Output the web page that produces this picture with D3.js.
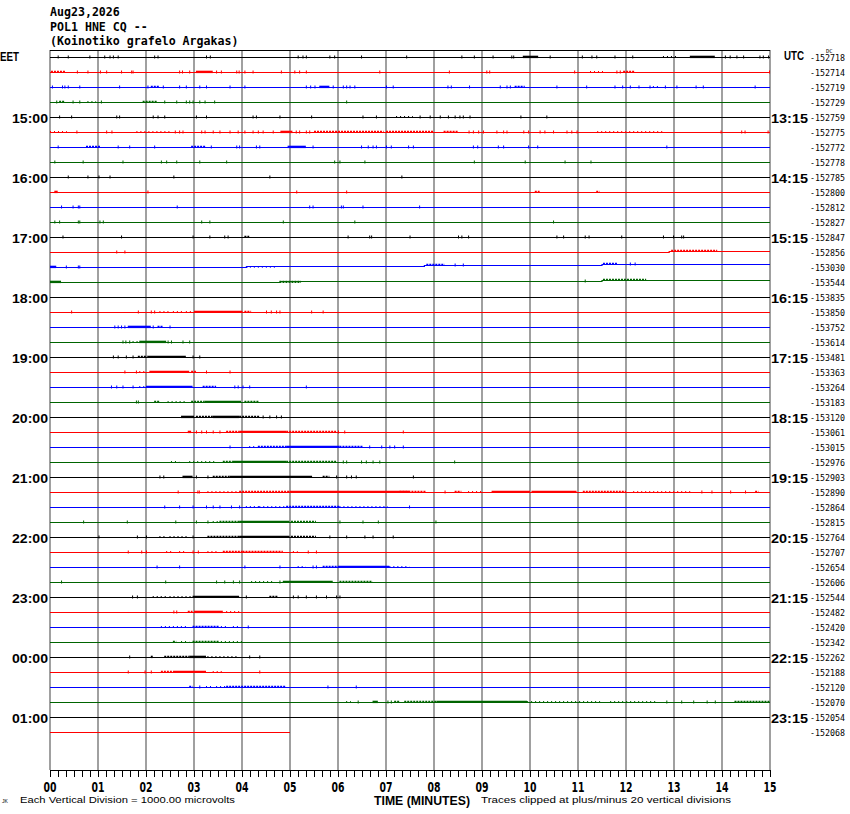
<!DOCTYPE html>
<html><head><meta charset="utf-8">
<script src="https://cdn.jsdelivr.net/npm/d3@7"></script>
<style>
html,body{margin:0;padding:0;background:#fff;}
svg{display:block;}
</style></head>
<body>
<svg id="chart" width="850" height="814"></svg>
<script>
// ---------------- DATA ----------------
const titleLines = ["Aug23,2026", "POL1 HNE CQ --", "(Koinotiko grafelo Argakas)"];
const traceColors = ["#000000", "#ff0000", "#0000ff", "#006400"];
const leftHourLabels = ["15:00","16:00","17:00","18:00","19:00","20:00","21:00","22:00","23:00","00:00","01:00"];
const rightHourLabels = ["13:15","14:15","15:15","16:15","17:15","18:15","19:15","20:15","21:15","22:15","23:15"];
const xTickLabels = ["00","01","02","03","04","05","06","07","08","09","10","11","12","13","14","15"];
const dcLabels = [-152718,-152714,-152719,-152729,-152759,-152775,-152772,-152778,-152785,-152800,-152812,-152827,
  -152847,-152856,-153030,-153544,-153835,-153850,-153752,-153614,-153481,-153363,-153264,-153183,-153120,-153061,
  -153015,-152976,-152903,-152890,-152864,-152815,-152764,-152707,-152654,-152606,-152544,-152482,-152420,-152342,
  -152262,-152188,-152120,-152070,-152054,-152068];
// minutes of recorded data per row (last row is partial)
const rowEndMinutes = dcLabels.map((d,i)=> i===45 ? 5 : 15);
// DC level steps [row, minute, offset in divisions]
const levelSteps = [[13,12.9,1],[14,4.1,1],[14,7.8,2],[14,11.5,3],[15,4.8,1],[15,11.5,2]];
// isolated spikes per row (minutes)
const spikes = [
 [0.16,0.37,0.82,1.13,1.24,1.31,1.41,2.17,2.24,3.25,3.33,5.16,5.26,5.33,5.82,5.92,6.48,7.42,8.57,8.83,9.22,9.61,9.65,10.41,11.08,11.28,11.38,11.76,12.13,14.06,14.16,14.30,14.44,14.78,14.85,14.96],
 [0.56,0.78,1.04,1.17,1.48,1.69,1.72,2.69,2.75,2.90,3.46,3.56,3.88,3.93,4.05,4.22,4.81,5.09,5.19,5.33,6.86,8.31,9.09,9.15,10.92,11.80,11.87,14.98],
 [0.04,0.25,0.30,0.37,0.61,1.44,2.03,2.35,2.69,2.83,3.11,3.25,3.74,4.05,5.33,5.42,5.51,5.89,6.10,6.17,6.24,6.34,7.0,7.14,8.28,8.35,8.73,9.37,9.51,9.58,10.55,11.17,11.76,11.92,12.08,12.26,12.49,12.81,13.05,13.45,13.60,14.68],
 [0.13,0.47,0.61,1.06,2.38,2.63,2.83,2.90,2.97,3.11,3.22,3.42,6.17],
 [0.19,0.44,1.38,1.44,2.14,2.24,2.38,3.04,3.25,4.22,4.29,4.78,5.44,6.51,6.79,7.70,7.91,8.12,8.29,8.43,8.53,8.60,8.74,9.80,10.34],
 [0.55,1.17,1.28,2.60,2.69,2.76,3.15,3.22,3.39,3.53,3.74,3.91,4.05,4.22,4.33,4.43,4.64,5.12,5.19,5.33,5.40,8.72,8.81,8.92,9.02,9.30,9.44,9.51,9.86,9.96,10.20,10.30,10.48,10.76,10.86,10.97,13.97,14.40,14.47,14.95],
 [0.16,1.41,1.65,2.17,3.35,3.88,3.94,4.29,4.36,5.47,6.48,6.62,6.72,6.79,7.0,7.10,7.46,7.56,8.81,8.90,9.33,9.44,9.96,10.15,12.84],
 [0.09,0.68,1.51,2.31,2.42,2.63,3.11,3.67,5.92,6.03,6.55,8.83,9.89,10.72,11.26],
 [0.37,0.78,1.01,1.24,2.57,4.57,7.32],
 [2.03,5.13,6.17],
 [0.23,0.47,0.58,0.61,2.64,5.40,5.47,6.06,6.10,6.51,7.69],
 [0.09,0.19,0.58,0.61,1.03,1.10,3.15,3.32,4.85,6.34,10.48],
 [0.26,1.48,2.97,3.32,3.63,3.70,6.20,6.65,6.69,7.49,8.50,8.57,8.71,10.55,10.69,11.14,11.22,11.90,12.77,12.98,13.15,13.19],
 [1.38,1.55],
 [0.33,0.58,0.61,8.43,8.60,12.08,12.18],
 [11.14],
 [],
 [0.44,1.83,2.10,2.17,4.50,4.60,4.71,4.78,5.44,5.68],
 [1.34,1.41,1.48,1.55,2.14,2.49],
 [1.51,1.57,1.65,2.45,2.52,2.76,2.90],
 [1.31,1.41,1.58,1.72,2.97,3.11],
 [1.55,1.79,3.25,3.74],
 [1.27,1.38,1.51,1.72,3.84,3.91,4.01,4.15,5.33],
 [1.79,1.83],
 [4.43,4.57,4.71,4.81],
 [3.04,3.15,3.25,3.39,3.53,6.0,6.13,7.35],
 [3.74,6.65,6.90,7.07,7.17,7.35],
 [6.10,6.17,6.48,6.58,6.72,6.86,8.42],
 [2.28,2.36,3.04,3.28,5.96,6.17,6.27,6.37,7.56],
 [2.66,3.07,3.10,8.22,13.57,13.78,14.17,14.48],
 [2.38,2.69,2.97,3.25,3.39,3.53,3.77,3.94,7.48],
 [0.69,1.60,2.61,3.04,3.28,6.03,6.51,6.83,8.03],
 [1.01,1.81,2.0,2.97,5.82,6.17,6.55,6.72,7.14],
 [1.62,1.90,2.0,2.97,3.08,5.37,5.54],
 [2.22,2.69,4.05,4.78,5.47,5.54],
 [0.23,2.40,3.46,3.63,3.81,3.94,4.78],
 [1.71,1.81,4.08,5.06,5.16,5.33,5.54,5.75,5.96,6.03],
 [2.57,2.63],
 [4.12],
 [],
 [1.65,4.15,4.36],
 [1.62,1.97,2.10,4.36],
 [3.11,5.78,6.37],
 [6.41,7.03,7.10,12.84,13.15,13.40,13.68,13.85],
 [],
 []
];
// bursts of activity per row: [startMin, endMin, density 1..3]
const bursts = [
 [[9.85,10.17,3],[12.77,13.05,1],[13.33,13.85,3]],
 [[0.02,0.33,2],[3.04,3.39,3],[11.25,11.56,1],[11.94,12.18,2]],
 [[2.10,2.28,2],[5.61,5.82,3],[9.68,9.89,2],[12.56,12.70,1]],
 [[0.19,0.30,2],[0.78,0.96,1],[1.93,2.24,2]],
 [[7.21,7.56,1]],
 [[0.0,0.35,1],[1.80,2.55,1],[4.80,5.05,3],[5.50,6.95,2],[7.0,8.0,2],[8.20,8.50,2],[11.40,12.80,1]],
 [[0.75,1.06,2],[2.94,3.25,2],[4.95,5.33,3]],
 [],
 [],
 [[0.09,0.16,3],[10.10,10.20,2],[11.38,11.45,2]],
 [],
 [],
 [[4.05,4.15,2]],
 [[12.94,13.90,2]],
 [[0.0,0.13,3],[4.08,4.70,1],[7.84,8.22,2],[11.52,11.83,2]],
 [[0.0,0.23,3],[4.78,5.23,2],[11.52,12.42,2]],
 [],
 [[2.28,2.49,1],[2.56,2.76,1],[2.83,2.97,1],[3.0,4.01,3],[4.05,4.19,2]],
 [[1.62,2.10,3],[2.24,2.35,2]],
 [[1.72,1.86,1],[1.86,2.42,3]],
 [[1.83,2.03,2],[2.03,2.83,3]],
 [[1.86,2.0,1],[2.07,2.90,3],[2.94,3.04,2]],
 [[1.86,2.0,1],[2.0,2.97,3],[3.18,3.46,2]],
 [[2.17,2.28,2],[2.45,2.86,1],[2.94,3.22,2],[3.22,3.98,3],[4.05,4.36,2]],
 [[2.73,3.0,3],[3.04,3.39,2],[3.39,3.94,3],[3.94,4.36,2]],
 [[2.87,2.94,3],[3.67,3.94,2],[3.94,4.92,3],[4.92,5.96,2]],
 [[4.15,4.29,1],[4.33,4.92,2],[4.92,6.03,3],[6.03,6.51,2]],
 [[2.52,2.69,1],[2.90,3.46,1],[3.60,3.81,2],[3.81,4.92,3],[4.92,5.96,2]],
 [[2.76,2.97,3],[3.39,3.74,2],[3.74,5.46,3],[5.68,5.82,2]],
 [[3.28,3.94,1],[3.94,4.99,2],[4.99,7.49,3],[7.28,7.84,2],[8.43,8.57,2],[8.71,8.99,1],[9.20,10.0,3],[10.03,10.97,3],[11.10,12.0,2],[12.15,13.40,1],[14.69,14.76,2]],
 [[4.08,4.36,1],[4.36,4.92,1],[4.92,6.03,2],[6.03,7.04,1]],
 [[3.39,3.53,1],[3.53,3.94,2],[3.94,4.99,3],[5.02,5.54,2]],
 [[2.28,2.42,1],[2.49,2.90,1],[3.28,3.94,2],[3.94,4.99,3],[5.02,5.54,2]],
 [[2.42,2.56,1],[2.69,2.83,1],[3.28,3.53,1],[3.60,4.01,2],[4.01,4.85,2],[5.06,5.16,1]],
 [[5.16,5.33,1],[5.68,6.0,2],[6.0,7.07,3],[7.07,7.49,1]],
 [[4.19,4.64,1],[4.85,5.89,3],[6.03,6.72,2]],
 [[2.14,2.42,1],[2.49,2.97,1],[2.97,3.94,3],[4.57,4.74,2]],
 [[2.87,2.97,2],[3.0,3.60,3],[3.67,3.98,1]],
 [[2.31,2.87,1],[2.97,3.53,2],[3.56,3.67,1],[3.81,3.94,1]],
 [[2.56,2.63,2],[2.73,2.90,1],[2.97,3.53,2],[3.56,4.05,1]],
 [[2.10,2.14,3],[2.38,2.90,2],[2.90,3.25,3],[3.28,3.94,1]],
 [[2.31,2.56,2],[2.56,3.25,3],[3.39,3.63,1]],
 [[2.90,2.97,2],[3.25,3.39,1],[3.46,3.67,1],[3.67,4.92,2]],
 [[6.17,6.27,1],[6.72,6.83,3],[7.17,7.28,2],[7.38,8.05,2],[8.05,9.94,3],[9.94,11.46,1],[11.67,12.63,1],[14.26,14.99,2]],
 [],
 []
];

// ---------------- DRAW ----------------
const svg = d3.select("#chart");
const x = d3.scaleLinear().domain([0, 15]).range([50, 770]);
const yRow = d3.scaleLinear().domain([0, 45]).range([57.5, 732.5]);
const yOff = d3.scaleLinear().domain([0, 1]).range([0, -1]); // divisions -> px offset
const nRows = dcLabels.length;

// vertical minute grid
const gridG = svg.append("g");
gridG.selectAll("line").data(d3.range(0, 16)).join("line")
  .attr("x1", d => x(d)).attr("x2", d => x(d))
  .attr("y1", 50).attr("y2", 770)
  .attr("stroke", "#808080").attr("stroke-width", 1.5);

// top frame line
svg.append("line").attr("x1", x(0)).attr("x2", x(15)).attr("y1", 50.5).attr("y2", 50.5)
  .attr("stroke", "#000").attr("stroke-width", 1);

// bottom axis
const axisG = svg.append("g").attr("transform", "translate(0,770)");
const xAxis = d3.axisBottom(x).tickValues(d3.range(0, 15.0001, 1/6)).tickSize(7).tickFormat("");
axisG.call(xAxis);
axisG.select(".domain").attr("stroke", "#000").attr("stroke-width", 1.2).attr("d", `M${x(0)},0.5H${x(15)}`);
axisG.selectAll(".tick line").attr("stroke", "#000").attr("stroke-width", 1);

// x tick labels
svg.append("g").selectAll("text").data(xTickLabels).join("text")
  .attr("x", (d, i) => x(i)).attr("y", 792)
  .attr("text-anchor", "middle")
  .attr("font-family", "'Liberation Sans Narrow','DejaVu Sans Condensed','Liberation Sans',sans-serif")
  .attr("font-weight", "bold").attr("font-size", 14)
  .attr("textLength", 13).attr("lengthAdjust", "spacingAndGlyphs")
  .text(d => d);

// level helper
function levelAt(row, m) {
  let off = 0;
  levelSteps.forEach(s => { if (s[0] === row && m >= s[1]) off = s[2]; });
  return off;
}

// traces
const tracesG = svg.append("g");
for (let r = 0; r < nRows; r++) {
  const color = traceColors[r % 4];
  const g = tracesG.append("g");
  const end = rowEndMinutes[r];
  const pts = [[0, levelAt(r, 0)]];
  levelSteps.filter(s => s[0] === r).forEach(s => pts.push([s[1], s[2]]));
  pts.push([end, levelAt(r, end)]);
  const line = d3.line().x(d => x(d[0])).y(d => yRow(r) + yOff(d[1])).curve(d3.curveStepAfter);
  g.append("path").attr("d", line(pts)).attr("fill", "none").attr("stroke", color).attr("stroke-width", 1.2);

  // bursts
  bursts[r].forEach(b => {
    const yb = yRow(r) + yOff(levelAt(r, b[0]));
    const dash = b[2] === 3 ? null : (b[2] === 2 ? "2,1" : "1,3");
    g.append("line")
      .attr("x1", x(b[0])).attr("x2", x(b[1]))
      .attr("y1", yb - 0.6).attr("y2", yb - 0.6)
      .attr("stroke", color).attr("stroke-width", b[2] === 1 ? 1.8 : 2.4)
      .attr("stroke-dasharray", dash);
  });
  // spikes
  g.selectAll("rect.sp").data(spikes[r]).join("rect").attr("class", "sp")
    .attr("x", d => x(d)).attr("width", 1)
    .attr("y", d => yRow(r) + yOff(levelAt(r, d)) - 2).attr("height", 3)
    .attr("fill", color);
}

// title
const mono = "'DejaVu Sans Mono','Liberation Mono',monospace";
svg.append("g").selectAll("text").data(titleLines).join("text")
  .attr("x", 50).attr("y", (d, i) => 16 + i * 14.5)
  .attr("font-family", mono).attr("font-weight", "bold").attr("font-size", 11.6)
  .text(d => d);

const boldSans = "'Liberation Sans',Arial,sans-serif";
svg.append("text").attr("x", 0).attr("y", 61).attr("font-family", boldSans)
  .attr("font-weight", "bold").attr("font-size", 13).attr("textLength", 19).attr("lengthAdjust", "spacingAndGlyphs").text("EET");
svg.append("text").attr("x", 784).attr("y", 60).attr("font-family", boldSans)
  .attr("font-weight", "bold").attr("font-size", 13).attr("textLength", 20).attr("lengthAdjust", "spacingAndGlyphs").text("UTC");

// hour labels
svg.append("g").selectAll("text").data(leftHourLabels).join("text")
  .attr("x", 48).attr("y", (d, i) => yRow((i + 1) * 4) + 5)
  .attr("text-anchor", "end").attr("font-family", boldSans).attr("font-weight", "bold")
  .attr("font-size", 13.5).attr("textLength", 36).attr("lengthAdjust", "spacingAndGlyphs").text(d => d);
svg.append("g").selectAll("text").data(rightHourLabels).join("text")
  .attr("x", 771).attr("y", (d, i) => yRow((i + 1) * 4) + 5.5)
  .attr("font-family", boldSans).attr("font-weight", "bold")
  .attr("font-size", 13.5).attr("textLength", 37).attr("lengthAdjust", "spacingAndGlyphs").text(d => d);

// DC labels
svg.append("g").selectAll("text").data(dcLabels).join("text")
  .attr("x", 810).attr("y", (d, i) => yRow(i) + 3)
  .attr("font-family", mono).attr("font-size", 8.4)
  .attr("textLength", 35).attr("lengthAdjust", "spacingAndGlyphs")
  .text(d => d3.format("d")(d).replace("−", "-"));
svg.append("text").attr("x", 826).attr("y", 53).attr("font-family", mono).attr("font-size", 5.5)
  .text("DC");

// bottom notes
svg.append("text").attr("x", 374).attr("y", 805).attr("font-family", boldSans).attr("font-weight", "bold")
  .attr("font-size", 12).attr("textLength", 96).attr("lengthAdjust", "spacingAndGlyphs").text("TIME (MINUTES)");
svg.append("text").attr("x", 20).attr("y", 803).attr("font-family", boldSans)
  .attr("font-size", 9).attr("textLength", 215).attr("lengthAdjust", "spacingAndGlyphs")
  .text("Each Vertical Division = 1000.00 microvolts");
svg.append("text").attr("x", 481).attr("y", 803).attr("font-family", boldSans)
  .attr("font-size", 9).attr("textLength", 250).attr("lengthAdjust", "spacingAndGlyphs")
  .text("Traces clipped at plus/minus 20 vertical divisions");
svg.append("text").attr("x", 2).attr("y", 803).attr("font-family", boldSans)
  .attr("font-size", 5).text("JK");
</script>
</body></html>
